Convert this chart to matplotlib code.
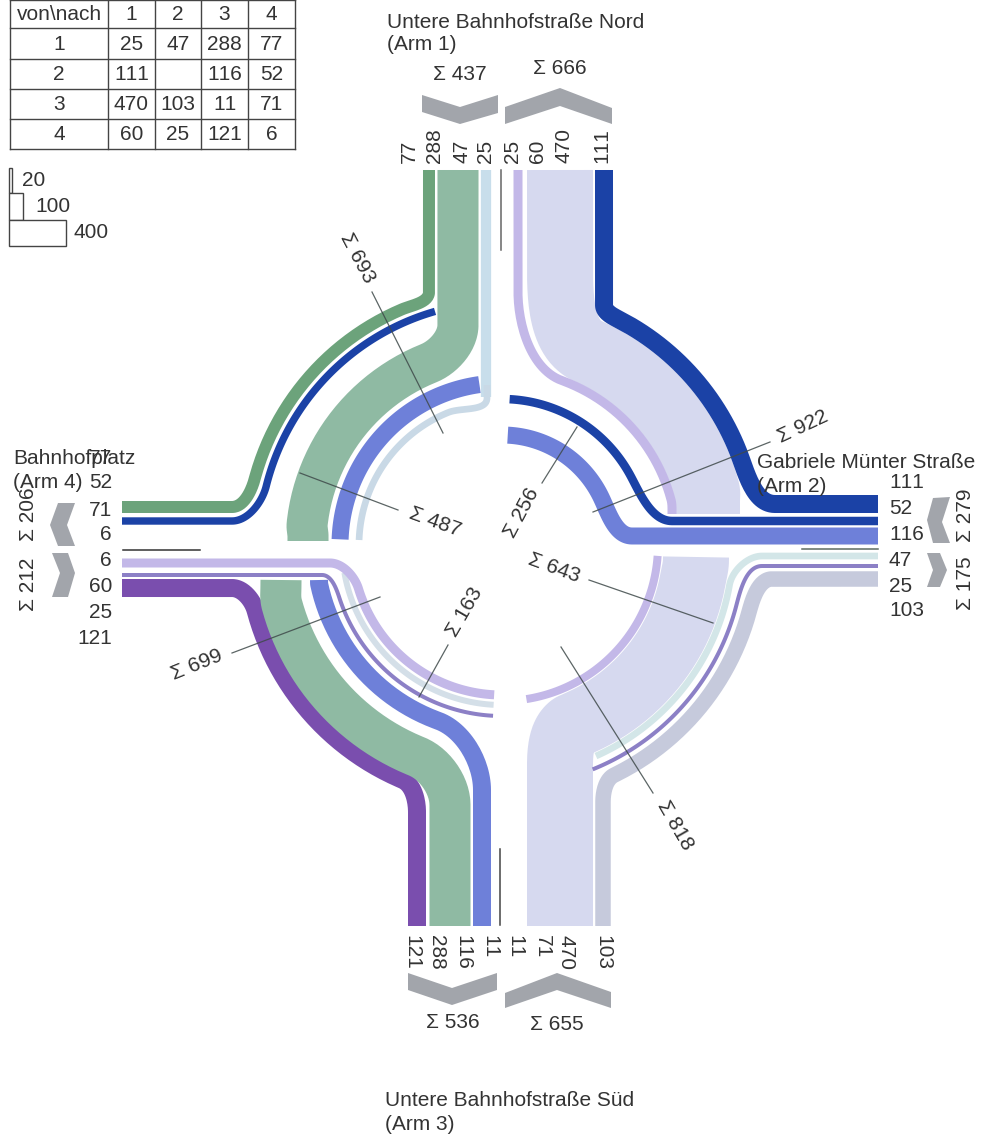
# Kreisverkehr flow diagram
import numpy as np
import matplotlib
matplotlib.use("Agg")
import matplotlib.pyplot as plt

plt.rcParams['font.family'] = ['Liberation Sans', 'DejaVu Sans']
plt.rcParams['text.kerning_factor'] = 6

# Data
header = ["von\\nach", "1", "2", "3", "4"]
row_names = ["1", "2", "3", "4"]
flows = [["25", "47", "288", "77"],
         ["111", "", "116", "52"],
         ["470", "103", "11", "71"],
         ["60", "25", "121", "6"]]
legend_values = [20, 100, 400]

arm1_labels = ["77", "288", "47", "25", "25", "60", "470", "111"]
arm2_labels = ["111", "52", "116", "47", "25", "103"]
arm3_labels = ["121", "288", "116", "11", "11", "71", "470", "103"]
arm4_labels = ["77", "52", "71", "6", "6", "60", "25", "121"]

arm_sums = {"a1_in": 437, "a1_out": 666, "a2_out": 279, "a2_in": 175,
            "a3_in": 536, "a3_out": 655, "a4_out": 206, "a4_in": 212}
ring_sums = [693, 487, 256, 922, 643, 818, 699, 163]

# Layout, everything in reference pixels
W, H = 982, 1137
CX, CY = 502, 545
SCALE = 0.1425  # px per vehicle
PT = 0.72       # px -> pt at dpi 100
FS = 15

DGREEN = "#6ca37b"
GREEN = "#8fbaa3"
PALE = "#c8deeb"
PALE2 = "#d3e6e8"
DBLUE = "#1b42a6"
BLUE = "#6e80d9"
LAV = "#d6d9ef"
LPURP = "#c3b8e8"
PURPLE = "#7a4eae"
TPURP = "#8c80c6"
GREY = "#c6cadc"
CHEV = "#a2a5ab"
TXT = "#333333"

fig = plt.figure(figsize=(W / 100, H / 100), dpi=100)
ax = fig.add_axes([0, 0, 1, 1])
ax.set_xlim(0, W)
ax.set_ylim(H, 0)
ax.axis("off")


def ring_point(r, a):
    t = np.radians(a)
    return np.array([CX + r * np.cos(t), CY - r * np.sin(t)])


def ring_tangent(a0, a1):
    # direction of travel along the ring, at angle a0
    t = np.radians(a0)
    s = 1 if a1 > a0 else -1
    return np.array([-np.sin(t), -np.cos(t)]) * s


def hermite(p0, t0, p1, t1, n=30):
    d = np.hypot(*(p1 - p0))
    s = np.linspace(0, 1, n)[:, None]
    return ((2 * s**3 - 3 * s**2 + 1) * p0 + (s**3 - 2 * s**2 + s) * d * t0
            + (-2 * s**3 + 3 * s**2) * p1 + (s**3 - s**2) * d * t1)


def band(value, color, r, a0, a1, head=None, tail=None, width=None):
    """Stroke one flow: optional straight head, ring arc, optional straight tail."""
    angles = np.linspace(a0, a1, 80)
    arc = np.array([ring_point(r, a) for a in angles])
    parts = []
    if head is not None:
        h0, h1 = np.array(head[0], float), np.array(head[1], float)
        td = (h1 - h0) / np.hypot(*(h1 - h0))
        parts += [h0[None, :], hermite(h1, td, arc[0], ring_tangent(a0, a1))]
    parts.append(arc)
    if tail is not None:
        t0, t1 = np.array(tail[0], float), np.array(tail[1], float)
        td = (t1 - t0) / np.hypot(*(t1 - t0))
        parts += [hermite(arc[-1], ring_tangent(a1, a1 + (a1 - a0)), t0, td), t1[None, :]]
    pts = np.vstack(parts)
    w = value * SCALE if width is None else width
    ax.plot(pts[:, 0], pts[:, 1], color=color, lw=w * PT,
            solid_capstyle="butt", solid_joinstyle="round", zorder=2)


# North-west quadrant
band(77, DGREEN, 256, 113, 165, head=[(429, 170), (429, 292)], tail=[(232, 507), (122, 507)], width=12)
band(52, DBLUE, 243, 106, 166, tail=[(232, 521), (122, 521)])
band(288, GREEN, 196, 112, 174, head=[(458, 170), (458, 325)], tail=[(308, 535), (308, 541)])
band(116, BLUE, 162, 98, 178, width=17)
ax.plot([486, 486], [170, 397], color=PALE, lw=(47 + 25) * SCALE * PT, solid_capstyle="butt", zorder=2)
band(47, "#c9d9e6", 143, 112, 178, head=[(487, 385), (487, 398)])

# North-east quadrant
band(470, LAV, 212, 66, 15, head=[(560, 170), (560, 258)], tail=[(707, 500), (707, 514)], width=66)
band(25 + 60, LPURP, 175, 70, 15, head=[(518, 170), (518, 292)], tail=[(672, 508), (672, 514)], width=9)
band(111, DBLUE, 254, 62, 22, head=[(604, 170), (604, 305)], tail=[(775, 504), (878, 504)], width=18)
band(52, DBLUE, 146, 87, 28, tail=[(672, 521), (878, 521)], width=8.5)
band(116, BLUE, 110, 87, 26, tail=[(632, 536), (878, 536)], width=17)

# South-east quadrant
band(470, LAV, 194, -10, -68, head=[(696, 557), (696, 560)], tail=[(560, 765), (560, 926)], width=66)
band(25 + 60, LPURP, 156, -4, -81, width=8)
band(47, PALE2, 231, -10, -66, head=[(878, 556), (762, 556)])
band(25, TPURP, 242, -15, -68, head=[(878, 566), (762, 566)], width=4)
band(103, GREY, 256, -15, -64, head=[(878, 579), (772, 579)], tail=[(603, 802), (603, 926)], width=15.5)

# South-west quadrant
band(121, PURPLE, 255, 195, 247, head=[(122, 588), (232, 588)], tail=[(417, 812), (417, 926)], width=18)
band(288, GREEN, 228, 195, 248, head=[(281, 580), (281, 584)], tail=[(450, 805), (450, 926)])
band(116, BLUE, 187, 192, 250, head=[(319, 580), (319, 583)], tail=[(482, 790), (482, 926)], width=18)
band(47, "#d4dfe8", 160, 190, 267, width=6)
band(60, LPURP, 150, 197, 267, head=[(122, 563), (330, 563)], width=9)
band(25, TPURP, 171, 198, 267, head=[(122, 575), (322, 575)], width=4)

# Arm dividers
divider_segs = [((501, 501), (170, 250), "#666666"), ((123, 200), (549.5, 549.5), "#333333"),
                ((802, 878), (549, 549), "#5d6b60"), ((500.5, 500.5), (849, 925), "#444444")]
for xs, ys, c in divider_segs:
    ax.plot(xs, ys, color=c, lw=1.1, zorder=3)

# Chevrons
chevrons = [
    [(422, 95), (460, 107), (498, 95), (498, 113), (460, 124), (422, 112)],
    [(505, 107), (560, 88), (612, 108), (612, 124), (560, 106), (505, 124)],
    [(950, 497), (933, 498), (927, 520), (933, 543), (950, 543), (942, 522)],
    [(927, 553), (940, 553), (947, 570), (940, 587), (927, 587), (933, 570)],
    [(408, 973), (452, 988), (497, 973), (497, 990), (452, 1005), (408, 990)],
    [(505, 993), (557, 973), (611, 992), (611, 1008), (557, 990), (505, 1008)],
    [(75, 503), (58, 503), (50, 525), (58, 546), (75, 546), (67, 525)],
    [(52, 553), (68, 553), (75, 573), (68, 597), (52, 597), (60, 573)],
]
for c in chevrons:
    ax.fill(*zip(*c), color=CHEV, lw=0, zorder=2)

# Cross-section lines + their sums
cross_lines = [((372, 292), (443, 433)), ((300, 473), (398, 510)), ((577, 427), (542, 483)),
               ((770, 442), (593, 512)), ((589, 580), (713, 623)), ((561, 647), (653, 793)),
               ((232, 653), (380, 597)), ((448, 645), (419, 697))]
sum_pos = [(357, 258, -62), (435, 522, -20), (522, 513, 62), (803, 427, 25),
           (554, 568, -20), (675, 825, -60), (197, 665, 22), (465, 612, 60)]
for (p, q), v, (x, y, rot) in zip(cross_lines, ring_sums, sum_pos):
    ax.plot([p[0], q[0]], [p[1], q[1]], color="#3f4a4a", lw=0.9, alpha=0.85, zorder=4)
    ax.text(x, y, f"Σ {v}", rotation=rot, ha="center", va="center", fontsize=FS,
            color=TXT, rotation_mode="anchor", zorder=5)

# Table
tx = [10, 108, 155, 201, 248, 295]
ty = [0, 28, 59, 89, 119, 149]
for x in tx:
    ax.plot([x, x], [ty[0], ty[-1]], color="#444444", lw=1.0, zorder=3)
for y in ty:
    ax.plot([tx[0], tx[-1]], [y, y], color="#444444", lw=1.0, zorder=3)
rows = [header] + [[n] + r for n, r in zip(row_names, flows)]
for i, row in enumerate(rows):
    for j, s in enumerate(row):
        ax.text((tx[j] + tx[j + 1]) / 2, (ty[i] + ty[i + 1]) / 2 + 0.5, s, ha="center", va="center",
                fontsize=FS, color=TXT, zorder=5)

# Scale legend
legend_y = [168, 193, 220, 246]
legend_text_x = [22, 35, 74]
for i, v in enumerate(legend_values):
    w = v * SCALE
    ax.fill([9, 9 + w, 9 + w, 9], [legend_y[i], legend_y[i], legend_y[i + 1], legend_y[i + 1]],
            fc="white", ec="#444444", lw=1.0, zorder=3)
    ax.text(legend_text_x[i], (legend_y[i] + legend_y[i + 1]) / 2, str(v), ha="left", va="center",
            fontsize=FS, color=TXT)

# Arm names
names = [(387, 22, "Untere Bahnhofstraße Nord"), (387, 45, "(Arm 1)"),
         (757, 463, "Gabriele Münter Straße"), (757, 486, "(Arm 2)"),
         (385, 1100, "Untere Bahnhofstraße Süd"), (385, 1125, "(Arm 3)"),
         (13, 458, "Bahnhofplatz"), (13, 482, "(Arm 4)")]
for x, y, s in names:
    ax.text(x, y, s, ha="left", va="center", fontsize=FS, color=TXT, zorder=5)

# Numbers at the arm ends
arm1_x = [409, 435, 462, 486, 513, 538, 564, 602]
arm3_x = [412, 437, 463, 490, 515, 542, 566, 603]
arm4_y = [458, 483, 510, 535, 560, 587, 612, 638]
arm2_y = [483, 509, 534, 560, 586, 611]
for x, s in zip(arm1_x, arm1_labels):
    ax.text(x, 163, s, rotation=90, ha="center", va="bottom", fontsize=FS, color=TXT)
for x, s in zip(arm3_x, arm3_labels):
    ax.text(x, 935, s, rotation=270, ha="center", va="top", fontsize=FS, color=TXT)
for y, s in zip(arm4_y, arm4_labels):
    ax.text(112, y, s, ha="right", va="center", fontsize=FS, color=TXT, zorder=5)
for y, s in zip(arm2_y, arm2_labels):
    ax.text(889, y, s, ha="left", va="center", fontsize=FS, color=TXT)

# Sums at the arm ends
arm_sum_pos = {"a1_in": (460, 74, 0), "a1_out": (560, 69, 0), "a2_out": (966, 515, 90), "a2_in": (966, 583, 90),
               "a3_in": (453, 1023, 0), "a3_out": (557, 1025, 0), "a4_out": (29, 514, 90), "a4_in": (29, 584, 90)}
for k, v in arm_sums.items():
    x, y, rot = arm_sum_pos[k]
    ax.text(x, y, f"Σ {v}", rotation=rot, ha="center", va="center", fontsize=FS, color=TXT, zorder=5)

fig.savefig("out.png", dpi=100)
